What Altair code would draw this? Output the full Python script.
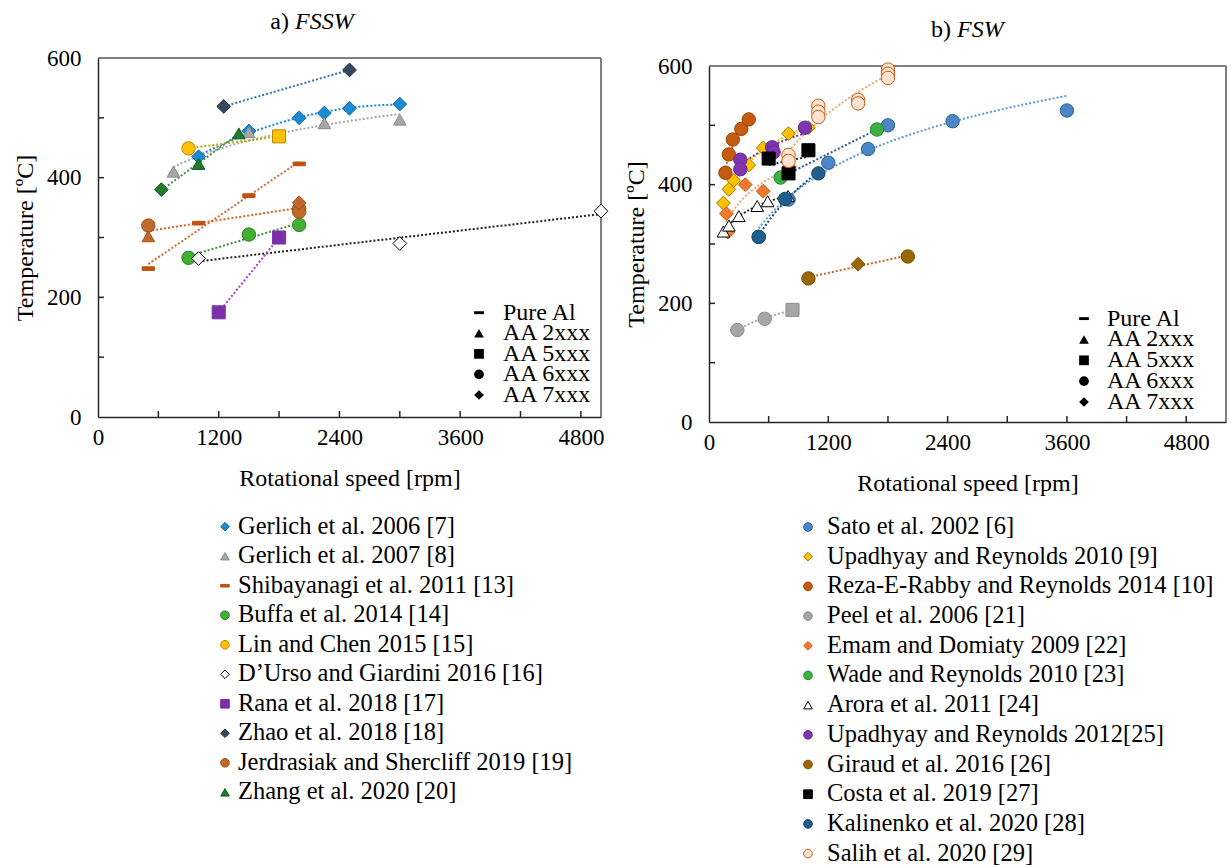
import altair as alt
import pandas as pd

FONT = "Liberation Serif"

# ---------------- shared categories / ticks ----------------
ALLOYS = ["Pure Al", "AA 2xxx", "AA 5xxx", "AA 6xxx", "AA 7xxx"]
X_LABELS = [0, 1200, 2400, 3600, 4800]
X_TICKS = [600, 1200, 1800, 2400, 3000, 3600, 4200, 4800]
Y_LABELS = [0, 200, 400, 600]
Y_TICKS = [100, 200, 300, 400, 500]

# ---------------- panel a) FSSW ----------------
A_NAMES = [
    "Gerlich et al. 2006 [7]",
    "Gerlich et al. 2007 [8]",
    "Shibayanagi et al. 2011 [13]",
    "Buffa et al. 2014 [14]",
    "Lin and Chen 2015 [15]",
    "D\u2019Urso and Giardini 2016 [16]",
    "Rana et al. 2018 [17]",
    "Zhao et al. 2018 [18]",
    "Jerdrasiak and Shercliff 2019 [19]",
    "Zhang et al. 2020 [20]",
]
A_RPM = {
    A_NAMES[0]: [1000, 1500, 2000, 2250, 2500, 3000],
    A_NAMES[1]: [750, 1500, 2250, 3000],
    A_NAMES[2]: [500, 1000, 1500, 2000],
    A_NAMES[3]: [900, 1500, 2000],
    A_NAMES[4]: [900, 1800],
    A_NAMES[5]: [1000, 3000, 5000],
    A_NAMES[6]: [1200, 1800],
    A_NAMES[7]: [1250, 2500],
    A_NAMES[8]: [500, 500, 2000, 2000, 2000],
    A_NAMES[9]: [630, 1000, 1400],
}
A_TEMP = {
    A_NAMES[0]: [435, 478, 500, 508, 516, 523],
    A_NAMES[1]: [410, 476, 491, 497],
    A_NAMES[2]: [248, 324, 370, 423],
    A_NAMES[3]: [266, 305, 321],
    A_NAMES[4]: [449, 469],
    A_NAMES[5]: [265, 290, 344],
    A_NAMES[6]: [175, 300],
    A_NAMES[7]: [519, 580],
    A_NAMES[8]: [320, 302, 348, 343, 358],
    A_NAMES[9]: [380, 423, 474],
}
A_ALLOY = {
    A_NAMES[0]: ["AA 7xxx"] * 6,
    A_NAMES[1]: ["AA 2xxx"] * 4,
    A_NAMES[2]: ["Pure Al"] * 4,
    A_NAMES[3]: ["AA 6xxx"] * 3,
    A_NAMES[4]: ["AA 6xxx", "AA 5xxx"],
    A_NAMES[5]: ["AA 7xxx"] * 3,
    A_NAMES[6]: ["AA 5xxx"] * 2,
    A_NAMES[7]: ["AA 7xxx"] * 2,
    A_NAMES[8]: ["AA 6xxx", "AA 2xxx", "AA 6xxx", "AA 6xxx", "AA 7xxx"],
    A_NAMES[9]: ["AA 7xxx", "AA 2xxx", "AA 2xxx"],
}

# ---------------- panel b) FSW ----------------
B_NAMES = [
    "Sato et al. 2002 [6]",
    "Upadhyay and Reynolds 2010 [9]",
    "Reza-E-Rabby and Reynolds 2014 [10]",
    "Peel et al. 2006 [21]",
    "Emam and Domiaty 2009 [22]",
    "Wade and Reynolds 2010 [23]",
    "Arora et al. 2011 [24]",
    "Upadhyay and Reynolds 2012[25]",
    "Giraud et al. 2016 [26]",
    "Costa et al. 2019 [27]",
    "Kalinenko et al. 2020 [28]",
    "Salih et al. 2020 [29]",
]
B_RPM = {
    B_NAMES[0]: [500, 800, 1200, 1600, 1800, 2450, 3600],
    B_NAMES[1]: [145, 200, 250, 400, 545, 800, 1000],
    B_NAMES[2]: [165, 200, 240, 325, 400],
    B_NAMES[3]: [285, 560, 840],
    B_NAMES[4]: [175, 190, 365, 545, 810],
    B_NAMES[5]: [720, 1690],
    B_NAMES[6]: [145, 200, 300, 485, 590, 795],
    B_NAMES[7]: [315, 315, 635, 650, 965],
    B_NAMES[8]: [1000, 1500, 2000],
    B_NAMES[9]: [600, 800, 1000],
    B_NAMES[10]: [500, 765, 1100],
    B_NAMES[11]: [800, 800, 1100, 1100, 1100, 1500, 1500, 1800, 1800, 1800],
}
B_TEMP = {
    B_NAMES[0]: [312, 375, 437, 460, 500, 507, 525],
    B_NAMES[1]: [369, 392, 407, 433, 462, 486, 496],
    B_NAMES[2]: [420, 451, 476, 494, 510],
    B_NAMES[3]: [155, 174, 189],
    B_NAMES[4]: [351, 320, 400, 389, 430],
    B_NAMES[5]: [412, 493],
    B_NAMES[6]: [321, 331, 347, 364, 372, 381],
    B_NAMES[7]: [442, 426, 463, 455, 496],
    B_NAMES[8]: [242, 266, 279],
    B_NAMES[9]: [444, 419, 458],
    B_NAMES[10]: [312, 376, 419],
    B_NAMES[11]: [450, 440, 533, 523, 514, 543, 537, 594, 587, 580],
}
B_ALLOY = {
    B_NAMES[0]: ["AA 6xxx"] * 7,
    B_NAMES[1]: ["AA 7xxx"] * 7,
    B_NAMES[2]: ["AA 6xxx"] * 5,
    B_NAMES[3]: ["AA 6xxx", "AA 6xxx", "AA 5xxx"],
    B_NAMES[4]: ["AA 7xxx"] * 5,
    B_NAMES[5]: ["AA 6xxx"] * 2,
    B_NAMES[6]: ["AA 2xxx"] * 6,
    B_NAMES[7]: ["AA 6xxx"] * 5,
    B_NAMES[8]: ["AA 6xxx", "AA 7xxx", "AA 6xxx"],
    B_NAMES[9]: ["AA 5xxx"] * 3,
    B_NAMES[10]: ["AA 6xxx"] * 3,
    B_NAMES[11]: ["AA 6xxx"] * 10,
}

# ---------------- styles ----------------
DASH = "M-1,-0.3L1,-0.3L1,0.3L-1,0.3Z"
ALLOY_SHAPES = [DASH, "triangle-up", "square", "circle", "diamond"]
ALLOY_SIZES = [150, 190, 210, 150, 125]
FRAME = "#555555"
AXIS = "#262626"

A_STYLE = {  # fill, stroke, trend colour, fit method, legend shape
    A_NAMES[0]: ("#1b8bd4", "#156aa5", "#1b8bd4", "poly", "diamond"),
    A_NAMES[1]: ("#a6a6a6", "#8c8c8c", "#a6a6a6", "log", "triangle-up"),
    A_NAMES[2]: ("#c0500f", "#c0500f", "#e0662a", "linear", DASH),
    A_NAMES[3]: ("#42b032", "#2e7d24", "#3f8f3f", "linear", "circle"),
    A_NAMES[4]: ("#ffc000", "#b08800", "#c9a100", "linear", "circle"),
    A_NAMES[5]: ("#ffffff", "#000000", "#222222", "linear", "diamond"),
    A_NAMES[6]: ("#7b2fa8", "#7b2fa8", "#a040d0", "linear", "square"),
    A_NAMES[7]: ("#34495e", "#1f2d3a", "#2e75b6", "linear", "diamond"),
    A_NAMES[8]: ("#c0692a", "#a0501a", "#e06020", "linear", "circle"),
    A_NAMES[9]: ("#217a2a", "#175a1e", "#3f8f3f", "linear", "triangle-up"),
}
B_STYLE = {
    B_NAMES[0]: ("#4a86c8", "#2d5f9a", "#5b9bd5", "log", "circle"),
    B_NAMES[1]: ("#ffc000", "#a07800", "#ffc000", "log", "diamond"),
    B_NAMES[2]: ("#c55a11", "#a04400", "#d0601a", "log", "circle"),
    B_NAMES[3]: ("#a6a6a6", "#8c8c8c", "#a6a6a6", "log", "circle"),
    B_NAMES[4]: ("#f07a30", "#d05a10", "#f4a46b", "log", "diamond"),
    B_NAMES[5]: ("#3cb043", "#2a7f2f", "#2f5597", "linear", "circle"),
    B_NAMES[6]: ("#ffffff", "#000000", "#222222", "log", "triangle-up"),
    B_NAMES[7]: ("#7e35b0", "#6a2a96", "#7030a0", "log", "circle"),
    B_NAMES[8]: ("#996600", "#7a5000", "#d0601a", "linear", "circle"),
    B_NAMES[9]: ("#000000", "#000000", "#333333", "linear", "square"),
    B_NAMES[10]: ("#1f5f8b", "#16466a", "#1f4e79", "log", "circle"),
    B_NAMES[11]: ("#fde3d2", "#c55a11", "#f4a46b", "log", "circle"),
}


def make_df(names, rpm, temp, alloy):
    rows = []
    for n in names:
        for x, y, a in zip(rpm[n], temp[n], alloy[n]):
            rows.append({"series": n, "rpm": x, "temp": y, "alloy": a})
    return pd.DataFrame(rows)


def make_panel(names, rpm, temp, alloy, style, xmax, W, H, top, tprefix, titalic,
               tx, inner, listleg, list_font):
    df = make_df(names, rpm, temp, alloy)
    xs = alt.Scale(domain=[0, xmax], nice=False, zero=False)
    ys = alt.Scale(domain=[0, 600], nice=False, zero=False, range=[H, top])
    fill_scale = alt.Scale(domain=names, range=[style[n][0] for n in names])
    stroke_scale = alt.Scale(domain=names, range=[style[n][1] for n in names])

    x_axis = alt.Axis(values=X_LABELS, format="d", ticks=False, labelPadding=9, labelFontSize=23,
                      labelFont=FONT, labelColor="black", title="Rotational speed [rpm]",
                      titleFont=FONT, titleFontSize=24, titleFontWeight="normal",
                      titleColor="black", titlePadding=17, grid=False,
                      domainColor=AXIS, domainWidth=1.5, labelFlush=False)
    y_axis = alt.Axis(values=Y_LABELS, format="d", ticks=False, labelPadding=17, labelFontSize=23,
                      labelFont=FONT, labelColor="black", title="Temperature [ºC]",
                      titleFont=FONT, titleFontSize=24, titleFontWeight="normal",
                      titleColor="black", titlePadding=9, grid=False,
                      domainColor=AXIS, domainWidth=1.5)

    layers = []
    # frame (top and right edges of the plot box)
    layers.append(alt.Chart(pd.DataFrame({"temp": [600]})).mark_rule(color=FRAME, strokeWidth=1.5).encode(
        y=alt.Y("temp:Q", scale=ys, axis=y_axis), x=alt.value(0), x2=alt.value(W)))
    layers.append(alt.Chart(pd.DataFrame({"rpm": [xmax]})).mark_rule(color=FRAME, strokeWidth=1.5).encode(
        x=alt.X("rpm:Q", scale=xs, axis=x_axis), y=alt.value(top), y2=alt.value(H)))
    for n in names:
        method = style[n][3]
        base = alt.Chart(df).transform_filter(alt.datum.series == n)
        if method == "poly":
            base = base.transform_regression("rpm", "temp", method="poly", order=2)
        else:
            base = base.transform_regression("rpm", "temp", method=method)
        layers.append(
            base.mark_line(strokeDash=[2, 2], strokeWidth=2, color=style[n][2]).encode(
                x=alt.X("rpm:Q", scale=xs, axis=x_axis),
                y=alt.Y("temp:Q", scale=ys, axis=y_axis),
            )
        )
    pts = alt.Chart(df).mark_point(filled=True, opacity=1, strokeWidth=1).encode(
        x=alt.X("rpm:Q", scale=xs, axis=x_axis),
        y=alt.Y("temp:Q", scale=ys, axis=y_axis),
        shape=alt.Shape("alloy:N", scale=alt.Scale(domain=ALLOYS, range=ALLOY_SHAPES), legend=None),
        size=alt.Size("alloy:O", scale=alt.Scale(domain=ALLOYS, range=ALLOY_SIZES), legend=None),
        fill=alt.Fill("series:N", scale=fill_scale, legend=None),
        stroke=alt.Stroke("series:N", scale=stroke_scale, legend=None),
    )
    yt = alt.Chart(pd.DataFrame({"temp": Y_TICKS})).mark_rule(color=AXIS, strokeWidth=1.5).encode(
        y=alt.Y("temp:Q", scale=ys, axis=y_axis), x=alt.value(0), x2=alt.value(6))
    xt = alt.Chart(pd.DataFrame({"rpm": X_TICKS})).mark_rule(color=AXIS, strokeWidth=1.5).encode(
        x=alt.X("rpm:Q", scale=xs, axis=x_axis), y=alt.value(H), y2=alt.value(H - 6))
    data_layer = alt.layer(*layers, yt, xt, pts)

    # inner alloy key
    sx, txx, r0, r1 = inner
    dfa = pd.DataFrame({"alloy": ALLOYS, "row": list(range(len(ALLOYS)))})
    ky = alt.Y("row:Q", scale=alt.Scale(domain=[0, len(ALLOYS) - 1], range=[r0 + top, r1 + top]), axis=None)
    key_pts = alt.Chart(dfa).mark_point(filled=True, color="black", opacity=1).encode(
        x=alt.value(sx), y=ky,
        shape=alt.Shape("alloy:N", scale=alt.Scale(domain=ALLOYS, range=ALLOY_SHAPES), legend=None),
        size=alt.value(95))
    key_txt = alt.Chart(dfa).mark_text(align="left", baseline="middle", font=FONT,
                                       fontSize=24, color="black").encode(
        x=alt.value(txx), y=ky, text="alloy:N")
    key_layer = alt.layer(key_pts, key_txt)

    # series list below the plot
    mx, ltx, l0, l1 = listleg
    dfl = pd.DataFrame({"series": names, "row": list(range(len(names)))})
    ly = alt.Y("row:Q", scale=alt.Scale(domain=[0, len(names) - 1], range=[l0 + top, l1 + top]), axis=None)
    leg_pts = alt.Chart(dfl).mark_point(filled=True, opacity=1, strokeWidth=1).encode(
        x=alt.value(mx), y=ly,
        shape=alt.Shape("series:N", scale=alt.Scale(domain=names, range=[style[n][4] for n in names]), legend=None),
        fill=alt.Fill("series:N", scale=fill_scale, legend=None),
        stroke=alt.Stroke("series:N", scale=stroke_scale, legend=None),
        size=alt.value(75))
    leg_txt = alt.Chart(dfl).mark_text(align="left", baseline="middle", font=FONT,
                                       fontSize=list_font, color="black").encode(
        x=alt.value(ltx), y=ly, text="series:N")
    leg_layer = alt.layer(leg_pts, leg_txt)

    # panel title (prefix upright, name italic)
    dft = pd.DataFrame({"p": [tprefix], "q": [titalic]})
    t1 = alt.Chart(dft).mark_text(align="right", baseline="middle", font=FONT, fontSize=24,
                                  color="black").encode(x=alt.value(tx), y=alt.value(top - 36), text="p:N")
    t2 = alt.Chart(dft).mark_text(align="left", baseline="middle", font=FONT, fontSize=24,
                                  fontStyle="italic", color="black").encode(
        x=alt.value(tx + 6), y=alt.value(top - 36), text="q:N")
    title_layer = alt.layer(t1, t2)

    return alt.layer(data_layer, key_layer, leg_layer, title_layer).resolve_scale(
        y="independent", shape="independent").properties(width=W, height=H)


panel_a = make_panel(A_NAMES, A_RPM, A_TEMP, A_ALLOY, A_STYLE, 5000, 503, 359, 0,
                     "a)", "FSSW", 191, (381, 405, 254.7, 337), (127, 140, 468.7, 734.3), 24.5)
panel_b = make_panel(B_NAMES, B_RPM, B_TEMP, B_ALLOY, B_STYLE, 5200, 517, 364, 8,
                     "b)", "FSW", 242, (375, 398, 252.6, 336), (99, 118, 461, 787.6), 24.5)

chart = alt.concat(panel_a, panel_b, columns=2, spacing=14).resolve_scale(
    fill="independent", stroke="independent", shape="independent", size="independent",
).properties(
    padding={"left": 13, "top": 10, "right": 0, "bottom": 0},
    background="white",
).configure_view(stroke="transparent", strokeWidth=0)

chart.save("out.html", embed_options={"renderer": "svg", "actions": False})
